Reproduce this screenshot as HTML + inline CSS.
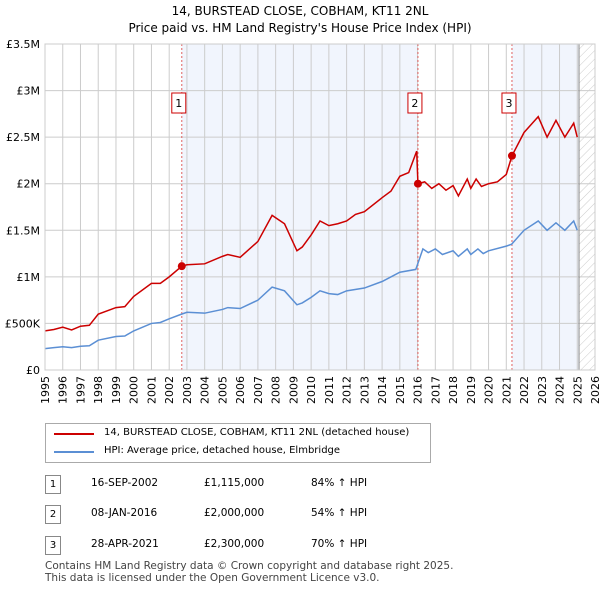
<!DOCTYPE html>
<html><head><meta charset="utf-8"><style>
body{margin:0;width:600px;height:590px;background:#fff;font-family:"DejaVu Sans","Liberation Sans",sans-serif;position:relative;overflow:hidden}
.t{position:absolute;font-size:11px;color:#000}
</style></head><body>
<div class="t" style="left:0;width:600px;text-align:center;top:3px;font-size:12px;line-height:17px">14, BURSTEAD CLOSE, COBHAM, KT11 2NL<br>Price paid vs. HM Land Registry's House Price Index (HPI)</div>
<svg id="c" width="600" height="415" style="position:absolute;left:0;top:0"></svg>
<div style="position:absolute;left:45px;top:423px;width:384px;height:38px;border:1px solid #aaa;font-size:10px">
<div style="position:absolute;left:8px;top:9px;width:40px;border-top:2px solid #cc0000"></div><div style="position:absolute;left:58px;top:3px">14, BURSTEAD CLOSE, COBHAM, KT11 2NL (detached house)</div>
<div style="position:absolute;left:8px;top:27px;width:40px;border-top:2px solid #5b8fd4"></div><div style="position:absolute;left:58px;top:21px">HPI: Average price, detached house, Elmbridge</div>
</div>
<div id="rows"></div>
<div class="t" style="left:45px;top:560px;font-size:10.5px;line-height:12px;color:#444">Contains HM Land Registry data © Crown copyright and database right 2025.<br>This data is licensed under the Open Government Licence v3.0.</div>
<script>
const hpiX=[1995,1995.5,1996,1996.5,1997,1997.5,1998,1999,1999.5,2000,2001,2001.5,2002,2002.7,2003,2004,2005,2005.3,2006,2007,2007.8,2008.5,2009.2,2009.5,2010,2010.5,2011,2011.5,2012,2013,2014,2015,2015.9,2016.3,2016.6,2017,2017.4,2018,2018.3,2018.8,2019,2019.4,2019.7,2020,2021,2021.3,2022,2022.8,2023.3,2023.8,2024.3,2024.8,2025];
const hpiY=[230e3,240e3,250e3,240e3,255e3,260e3,320e3,360e3,365e3,420e3,500e3,510e3,550e3,600e3,620e3,610e3,650e3,670e3,660e3,750e3,890e3,850e3,700e3,720e3,780e3,850e3,820e3,810e3,850e3,880e3,950e3,1.05e6,1.08e6,1.3e6,1.26e6,1.3e6,1.24e6,1.28e6,1.22e6,1.3e6,1.24e6,1.3e6,1.25e6,1.28e6,1.33e6,1.35e6,1.5e6,1.6e6,1.5e6,1.58e6,1.5e6,1.6e6,1.5e6];
const redX=[1995,1995.5,1996,1996.5,1997,1997.5,1998,1999,1999.5,2000,2001,2001.5,2002,2002.71,2003,2004,2005,2005.3,2006,2007,2007.8,2008.5,2009.2,2009.5,2010,2010.5,2011,2011.5,2012,2012.5,2013,2014,2014.5,2015,2015.5,2015.95,2016.02,2016.4,2016.8,2017.2,2017.6,2018,2018.3,2018.8,2019,2019.3,2019.6,2020,2020.5,2021,2021.32,2022,2022.8,2023.3,2023.8,2024.3,2024.8,2025];
const redY=[420e3,435e3,460e3,430e3,470e3,480e3,600e3,670e3,680e3,790e3,930e3,930e3,1.0e6,1.115e6,1.13e6,1.14e6,1.22e6,1.24e6,1.21e6,1.38e6,1.66e6,1.57e6,1.28e6,1.32e6,1.45e6,1.6e6,1.55e6,1.57e6,1.6e6,1.67e6,1.7e6,1.85e6,1.92e6,2.08e6,2.12e6,2.35e6,2.0e6,2.02e6,1.95e6,2.0e6,1.93e6,1.98e6,1.87e6,2.05e6,1.95e6,2.05e6,1.97e6,2.0e6,2.02e6,2.1e6,2.3e6,2.55e6,2.72e6,2.5e6,2.68e6,2.5e6,2.65e6,2.5e6];
const saleX=[2002.71,2016.02,2021.32];
const saleY=[1115000,2000000,2300000];
const saleLabel=["1","2","3"];
const saleDate=["16-SEP-2002","08-JAN-2016","28-APR-2021"];
const salePrice=["£1,115,000","£2,000,000","£2,300,000"];
const saleHpi=["84% ↑ HPI","54% ↑ HPI","70% ↑ HPI"];
const yTicks=[0,500e3,1e6,1.5e6,2e6,2.5e6,3e6,3.5e6];
const yLabels=["£0","£500K","£1M","£1.5M","£2M","£2.5M","£3M","£3.5M"];
const F='DejaVu Sans,Liberation Sans,sans-serif';
const X=v=>45+(v-1995)*550/31, Y=v=>370-v*326/3.5e6;
const s=document.getElementById('c');const NS='http://www.w3.org/2000/svg';
function mk(t,a,p){const e=document.createElementNS(NS,t);for(const k in a)e.setAttribute(k,a[k]);(p||s).appendChild(e);return e;}
s.innerHTML='<defs><pattern id="h" width="6" height="6" patternUnits="userSpaceOnUse" patternTransform="rotate(45)"><line x1="0" y1="0" x2="0" y2="6" stroke="#ccc" stroke-width="1"/></pattern></defs>';
let r=mk('rect',{x:X(2002.71),y:44,width:X(2016.02)-X(2002.71),height:326,fill:'#eef3fc',opacity:.8});
r=mk('rect',{x:X(2021.32),y:44,width:X(2025.1)-X(2021.32),height:326,fill:'#eef3fc',opacity:.8});
r=mk('rect',{x:X(2025.1),y:44,width:X(2026)-X(2025.1),height:326,fill:'url(#h)'});
for(let yr=1995;yr<=2026;yr++){const g=mk('line',{x1:X(yr),x2:X(yr),y1:44,y2:370,stroke:'#ccc'});
const t=mk('text',{x:0,y:0,transform:`translate(${X(yr)+4},376) rotate(-90)`,'text-anchor':'end','font-size':11,'font-family':F});t.textContent=yr;}
yTicks.forEach((v,i)=>{const g=mk('line',{x1:45,x2:595,y1:Y(v),y2:Y(v),stroke:'#ccc'});
const t=mk('text',{x:40,y:Y(v)+4,'text-anchor':'end','font-size':11,'font-family':F});t.textContent=yLabels[i];});
let l=mk('line',{x1:X(2025.1),x2:X(2025.1),y1:44,y2:370,stroke:'#888'});
saleX.forEach((v,i)=>{const d=mk('line',{x1:X(v),x2:X(v),y1:44,y2:370,stroke:'#e06060','stroke-dasharray':'2,2'});
const b=mk('rect',{x:X(v)-10,y:93,width:14,height:20,fill:'#fff',stroke:'#cc0000'});
const t=mk('text',{x:X(v)-3,y:107,'text-anchor':'middle','font-size':11,'font-family':F});t.textContent=saleLabel[i];});
let p=mk('polyline',{points:hpiX.map((x,i)=>X(x)+','+Y(hpiY[i])).join(' '),fill:'none',stroke:'#5b8fd4','stroke-width':1.5});
p=mk('polyline',{points:redX.map((x,i)=>X(x)+','+Y(redY[i])).join(' '),fill:'none',stroke:'#cc0000','stroke-width':1.5});
saleX.forEach((v,i)=>{const c=mk('circle',{cx:X(v),cy:Y(saleY[i]),r:4,fill:'#cc0000'});});
let bd=mk('rect',{x:45,y:44,width:550,height:326,fill:'none',stroke:'#ccc'});
const rows=document.getElementById('rows');
saleDate.forEach((d,i)=>{const y=[475,505,536][i];const row=document.createElement('div');


row.innerHTML=`<div style="position:absolute;left:45px;top:${y}px;width:14px;height:17px;border:1px solid #888;font-size:10px;text-align:center;line-height:17px">${saleLabel[i]}</div><div class="t" style="left:91px;top:${y+2}px;font-size:10.5px">${d}</div><div class="t" style="left:204px;top:${y+2}px;font-size:10.5px">${salePrice[i]}</div><div class="t" style="left:311px;top:${y+2}px;font-size:10.5px">${saleHpi[i]}</div>`;rows.appendChild(row);});
</script></body></html>
